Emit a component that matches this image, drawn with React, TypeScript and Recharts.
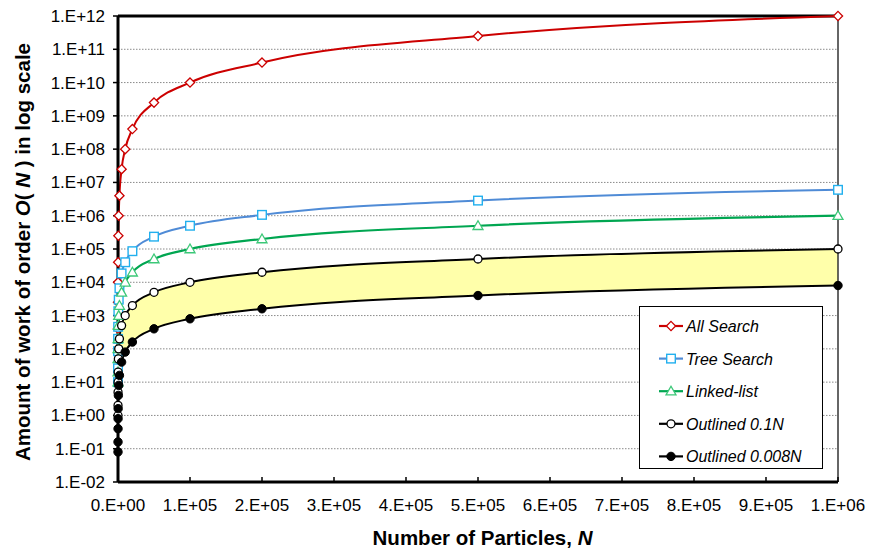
import React from 'react';
import {
  ComposedChart,
  Line,
  Area,
  XAxis,
  YAxis,
  CartesianGrid,
  ReferenceLine,
  Legend,
  Label,
} from 'recharts';

const N_VALUES = [10, 20, 50, 100, 200, 500, 1000, 2000, 5000, 10000, 20000, 50000, 100000, 200000, 500000, 1000000];
const ALL_SEARCH = [100, 400, 2500, 1e4, 4e4, 2.5e5, 1e6, 4e6, 2.5e7, 1e8, 4e8, 2.5e9, 1e10, 4e10, 2.5e11, 1e12];
const TREE_SEARCH = [10, 26, 85, 200, 460, 1350, 3000, 6600, 18500, 40000, 86000, 235000, 500000, 1060000, 2850000, 6000000];
const LINKED_LIST = [10, 20, 50, 100, 200, 500, 1000, 2000, 5000, 1e4, 2e4, 5e4, 1e5, 2e5, 5e5, 1e6];
const OUTLINED_01 = [1, 2, 5, 10, 20, 50, 100, 200, 500, 1000, 2000, 5000, 1e4, 2e4, 5e4, 1e5];
const OUTLINED_0008 = [0.08, 0.16, 0.4, 0.8, 1.6, 4, 8, 16, 40, 80, 160, 400, 800, 1600, 4000, 8000];

const Y_TICKS = [1e-2, 1e-1, 1, 1e1, 1e2, 1e3, 1e4, 1e5, 1e6, 1e7, 1e8, 1e9, 1e10, 1e11, 1e12];
const X_TICKS = [0, 1e5, 2e5, 3e5, 4e5, 5e5, 6e5, 7e5, 8e5, 9e5, 1e6];

const SERIES_LABELS = ['All Search', 'Tree Search', 'Linked-list', 'Outlined 0.1N', 'Outlined 0.008N'];

const FONT = '"Liberation Sans", Arial, sans-serif';

const data = N_VALUES.map((n, i) => ({
  n,
  all: ALL_SEARCH[i],
  tree: TREE_SEARCH[i],
  linked: LINKED_LIST[i],
  o1: OUTLINED_01[i],
  o2: OUTLINED_0008[i],
  band: [OUTLINED_0008[i], OUTLINED_01[i]],
}));

const RED = '#CC0000';
const BLUE_LINE = '#4F8BD6';
const BLUE_MK = '#22B0EE';
const GREEN_LINE = '#00A651';
const GREEN_MK = '#3CC878';

const fmtY = (v: number) => {
  const e = Math.round(Math.log10(v));
  return `1.E${e < 0 ? '-' : '+'}${String(Math.abs(e)).padStart(2, '0')}`;
};
const fmtX = (v: number) => {
  if (v === 0) return '0.E+00';
  const e = Math.floor(Math.log10(v) + 1e-9);
  const m = Math.round(v / Math.pow(10, e));
  return `${m}.E+${String(e).padStart(2, '0')}`;
};

type Shape = 'diamond' | 'square' | 'triangle' | 'circleOpen' | 'circleFilled';

const drawMarker = (shape: Shape, cx: number, cy: number, color: string, key?: any) => {
  switch (shape) {
    case 'diamond': {
      const r = 4.6;
      return (
        <polygon key={key} points={`${cx},${cy - r} ${cx + r},${cy} ${cx},${cy + r} ${cx - r},${cy}`} fill="#fff" stroke={color} strokeWidth={1.3} />
      );
    }
    case 'square': {
      const s = 4.3;
      return <rect key={key} x={cx - s} y={cy - s} width={2 * s} height={2 * s} fill="#fff" stroke={color} strokeWidth={1.4} />;
    }
    case 'triangle': {
      const r = 5;
      return (
        <polygon key={key} points={`${cx},${cy - r} ${cx + r},${cy + r * 0.75} ${cx - r},${cy + r * 0.75}`} fill="#fff" stroke={color} strokeWidth={1.3} />
      );
    }
    case 'circleOpen':
      return <circle key={key} cx={cx} cy={cy} r={4} fill="#fff" stroke={color} strokeWidth={1.3} />;
    default:
      return <circle key={key} cx={cx} cy={cy} r={4.2} fill={color} stroke={color} strokeWidth={1} />;
  }
};

const dotFn = (shape: Shape, color: string) => (p: any) => {
  const { cx, cy, index } = p;
  if (cx == null || cy == null || isNaN(cx) || isNaN(cy)) return <g key={index} />;
  return drawMarker(shape, cx, cy, color, index);
};

const LEGEND_ITEMS: { label: string; line: string; mk: string; shape: Shape }[] = [
  { label: SERIES_LABELS[0], line: RED, mk: RED, shape: 'diamond' },
  { label: SERIES_LABELS[1], line: BLUE_LINE, mk: BLUE_MK, shape: 'square' },
  { label: SERIES_LABELS[2], line: GREEN_LINE, mk: GREEN_MK, shape: 'triangle' },
  { label: SERIES_LABELS[3], line: '#000', mk: '#000', shape: 'circleOpen' },
  { label: SERIES_LABELS[4], line: '#000', mk: '#000', shape: 'circleFilled' },
];

const LegendBox = () => (
  <div
    style={{
      width: 184,
      height: 163,
      boxSizing: 'border-box',
      border: '1.5px solid #000',
      background: '#fff',
      position: 'relative',
      fontFamily: FONT,
    }}
  >
    <svg width={184} height={163} style={{ position: 'absolute', left: -1.5, top: -1.5 }}>
      {LEGEND_ITEMS.map((it, i) => {
        const cy = 20 + i * 32.6;
        return (
          <g key={it.label}>
            <line x1={20} x2={44} y1={cy} y2={cy} stroke={it.line} strokeWidth={2.2} />
            {drawMarker(it.shape, 32, cy, it.mk)}
            <text x={47} y={cy + 6} fontSize={16} fontStyle="italic" fill="#000" fontFamily={FONT}>
              {it.label}
            </text>
          </g>
        );
      })}
    </svg>
  </div>
);

const XTick = (p: any) => {
  const { x, y, payload } = p;
  return (
    <g>
      <line x1={x} x2={x} y1={y} y2={y - 5} stroke="#000" strokeWidth={1.5} />
      <text x={x} y={y + 29} textAnchor="middle" fontSize={17} fill="#000" fontFamily={FONT}>
        {fmtX(payload.value)}
      </text>
    </g>
  );
};

export default function App() {
  return (
    <div style={{ position: 'absolute', left: 0, top: 0, width: 869, height: 554, background: '#fff' }}>
      <ComposedChart
        width={869}
        height={554}
        data={data}
        margin={{ top: 16, right: 31, bottom: 0, left: 0 }}
        style={{ fontFamily: FONT }}
      >
        <CartesianGrid vertical={false} stroke="#8a8a8a" strokeDasharray="1.5 1.5" strokeWidth={1} />
        <XAxis
          dataKey="n"
          type="number"
          domain={[0, 1e6]}
          ticks={X_TICKS}
          height={72}
          tickSize={0}
          tickMargin={0}
          tickLine={false}
          axisLine={{ stroke: '#000', strokeWidth: 3 }}
          tick={<XTick />}
          interval={0}
        >
          <Label
            content={() => (
              <text x={482.5} y={545} textAnchor="middle" fontSize={20.5} fontWeight="bold" fill="#000" fontFamily={FONT}>
                Number of Particles, <tspan fontStyle="italic">N</tspan>
              </text>
            )}
          />
        </XAxis>
        <YAxis
          type="number"
          scale="log"
          domain={[1e-2, 1e12]}
          ticks={Y_TICKS}
          interval={0}
          width={118}
          tickSize={5}
          tickMargin={8}
          tickFormatter={fmtY}
          tick={{ fontSize: 17, fill: '#000', fontFamily: FONT }}
          tickLine={{ stroke: '#000', strokeWidth: 1.5 }}
          axisLine={{ stroke: '#000', strokeWidth: 3 }}
        >
          <Label
            content={() => (
              <text
                transform="rotate(-90)"
                x={-252}
                y={30}
                textAnchor="middle"
                fontSize={20.5}
                fontWeight="bold"
                fill="#000"
                fontFamily={FONT}
              >
                Amount of work of order <tspan fontStyle="italic">O</tspan>(<tspan fontStyle="italic"> N </tspan>) in log scale
              </text>
            )}
          />
        </YAxis>
        <ReferenceLine y={1e12} stroke="#000" strokeWidth={3} />
        <ReferenceLine x={1e6} stroke="#333" strokeWidth={1.5} />
        <Area
          type="monotone"
          dataKey="band"
          fill="#FFFFAA"
          fillOpacity={1}
          stroke="none"
          isAnimationActive={false}
          legendType="none"
          activeDot={false}
        />
        <Line type="monotone" dataKey="all" stroke={RED} strokeWidth={2} dot={dotFn('diamond', RED)} isAnimationActive={false} activeDot={false} />
        <Line type="monotone" dataKey="tree" stroke={BLUE_LINE} strokeWidth={2} dot={dotFn('square', BLUE_MK)} isAnimationActive={false} activeDot={false} />
        <Line type="monotone" dataKey="linked" stroke={GREEN_LINE} strokeWidth={2.2} dot={dotFn('triangle', GREEN_MK)} isAnimationActive={false} activeDot={false} />
        <Line type="monotone" dataKey="o1" stroke="#000" strokeWidth={2} dot={dotFn('circleOpen', '#000')} isAnimationActive={false} activeDot={false} />
        <Line type="monotone" dataKey="o2" stroke="#000" strokeWidth={2} dot={dotFn('circleFilled', '#000')} isAnimationActive={false} activeDot={false} />
        <Legend
          layout="horizontal"
          verticalAlign="middle"
          align="center"
          content={() => <LegendBox />}
          wrapperStyle={{ position: 'absolute', left: 639, top: 306, width: 184, height: 163 }}
        />
      </ComposedChart>
    </div>
  );
}
